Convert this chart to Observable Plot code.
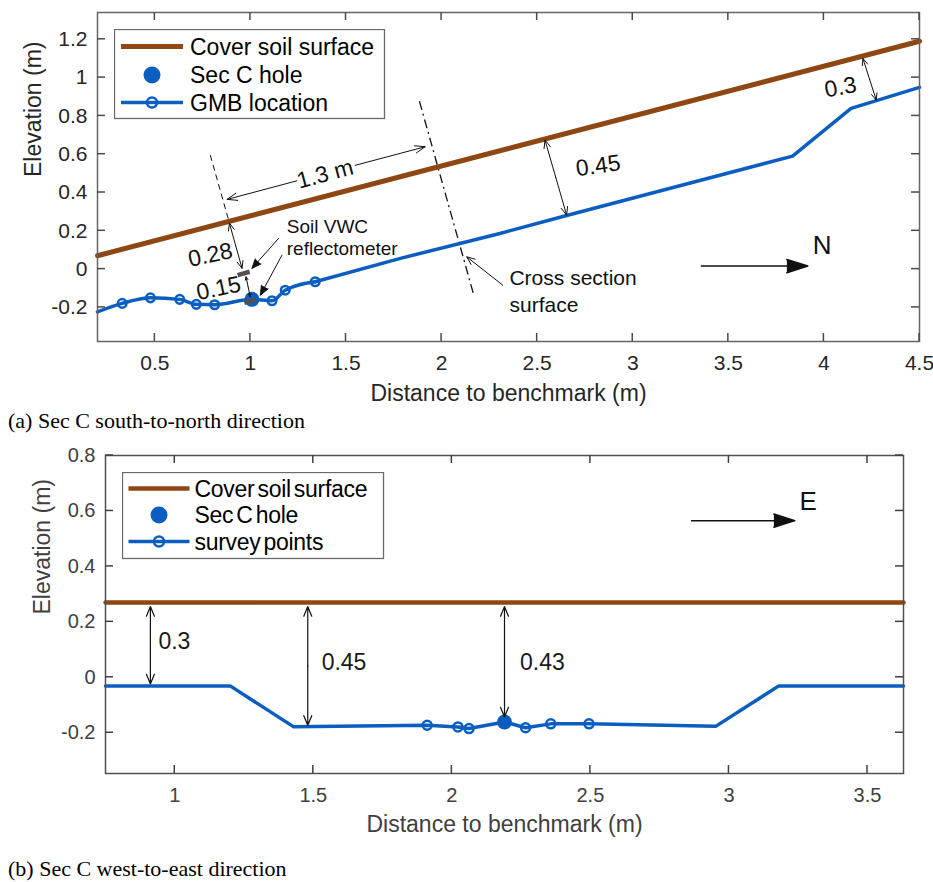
<!DOCTYPE html>
<html><head><meta charset="utf-8">
<script src="https://cdn.jsdelivr.net/npm/d3@7"></script>
<script src="https://cdn.jsdelivr.net/npm/@observablehq/plot@0.6"></script>
<style>
html,body{margin:0;padding:0;background:#fff;}
#wrap{position:relative;width:933px;height:882px;overflow:hidden;font-family:"Liberation Sans",Arial,sans-serif;}
.panel{position:absolute;left:0;}
.legend{position:absolute;}
.cap{position:absolute;left:8px;font-family:"Liberation Serif","Times New Roman",serif;font-size:22px;line-height:22px;color:#000;white-space:nowrap;}
</style></head>
<body>
<div id="wrap">
  <div id="pa" class="panel" style="top:0px"></div>
  <div id="pb" class="panel" style="top:440px"></div>
  <div class="cap" style="top:410px">(a) Sec C south-to-north direction</div>
  <div class="cap" style="top:858px">(b) Sec C west-to-east direction</div>
</div>
<script>
// ---------------- DATA: panel (a) ----------------
const xTicksA = [0.5, 1, 1.5, 2, 2.5, 3, 3.5, 4, 4.5];
const yTicksA = [-0.2, 0, 0.2, 0.4, 0.6, 0.8, 1, 1.2];
const coverAx = [0.2, 4.5];
const coverAy = [0.07, 1.19];
const gmbAx = [0.2, 0.329, 0.477, 0.63, 0.717, 0.813, 1.008, 1.113, 1.182, 1.339, 1.78, 2.3, 2.654, 3.836, 4.142, 4.5];
const gmbAy = [-0.223, -0.179, -0.15, -0.158, -0.184, -0.186, -0.158, -0.165, -0.11, -0.066, 0.055, 0.185, 0.28, 0.59, 0.839, 0.949];
const gmbMarkAx = [0.329, 0.477, 0.63, 0.717, 0.813, 1.113, 1.182, 1.339];
const gmbMarkAy = [-0.179, -0.15, -0.158, -0.184, -0.186, -0.165, -0.11, -0.066];
const holeAx = [1.008];
const holeAy = [-0.158];
// annotation geometry (a)
const dblAx1 = [2.541, 4.204, 0.89, 0.977];
const dblAy1 = [0.674, 1.1, 0.24, -0.04];
const dblAx2 = [2.654, 4.274, 0.956, 0.999];
const dblAy2 = [0.282, 0.882, 0.004, -0.145];
const spanAx1 = [1.243, 1.548];
const spanAy1 = [0.461, 0.542];
const spanAx2 = [0.878, 1.914];
const spanAy2 = [0.364, 0.639];
const ptrAx1 = [1.147, 1.165];
const ptrAy1 = [0.16, 0.073];
const ptrAx2 = [1.008, 1.052];
const ptrAy2 = [0.004, -0.136];
const xsPtrX = [2.32, 2.132];
const xsPtrY = [-0.084, 0.064];
const northX = [3.359, 3.916];
const northY = [0.016, 0.016];
const dashAX = [0.79, 0.886];
const dashAY = [0.595, 0.256];
const dashDotAX = [1.884, 2.166];
const dashDotAY = [0.877, -0.127];
const sensorX1 = [0.933, 0.968];
const sensorY1 = [-0.031, -0.176];
const sensorX2 = [0.996, 1.031];
const sensorY2 = [-0.014, -0.158];
const rotLabA = ["1.3 m", "0.28", "0.15", "0.45", "0.3"];
const rotLabAx = [1.391, 0.79, 0.834, 2.819, 4.087];
const rotLabAy = [0.496, 0.073, -0.101, 0.539, 0.949];
const rotLabAr = [-15, -12, -12, -8, -10];
const noteA = ["Soil VWC", "reflectometer"];
const noteAx = [1.19, 1.19];
const noteAy = [0.221, 0.108];
const xsLab = ["Cross section", "surface"];
const xsLabX = [2.355, 2.355];
const xsLabY = [-0.049, -0.188];
const nLab = ["N"]; const nLabX = [3.942]; const nLabY = [0.125];

// ---------------- DATA: panel (b) ----------------
const xTicksB = [1, 1.5, 2, 2.5, 3, 3.5];
const yTicksB = [-0.2, 0, 0.2, 0.4, 0.6, 0.8];
const coverBx = [0.75, 3.63];
const coverBy = [0.27, 0.27];
const surveyBx = [0.75, 1.2, 1.428, 1.911, 2.022, 2.062, 2.19, 2.266, 2.357, 2.495, 2.952, 3.18, 3.63];
const surveyBy = [-0.031, -0.031, -0.178, -0.173, -0.179, -0.185, -0.161, -0.182, -0.168, -0.168, -0.177, -0.031, -0.031];
const surveyMarkBx = [1.911, 2.022, 2.062, 2.266, 2.357, 2.495];
const surveyMarkBy = [-0.173, -0.179, -0.185, -0.182, -0.168, -0.168];
const holeBx = [2.19];
const holeBy = [-0.161];
const dblBx = [0.912, 1.48, 2.19];
const dblBTop = [0.255, 0.255, 0.255];
const dblBBot = [-0.024, -0.173, -0.143];
const dblBLab = ["0.3", "0.45", "0.43"];
const dblBLabX = [0.941, 1.53, 2.246];
const dblBLabY = [0.127, 0.052, 0.052];
const eastX = [2.865, 3.238];
const eastY = [0.565, 0.565];
const eLab = ["E"]; const eLabX = [3.255]; const eLabY = [0.633];

const legendA = ["Cover soil surface", "Sec C hole", "GMB location"];
const legendB = ["Cover soil surface", "Sec C hole", "survey points"];
const xLabel = "Distance to benchmark (m)";
const yLabel = "Elevation (m)";

// ---------------- STYLE ----------------
const brown = "#8e4612", blue = "#0b5ec0", ink = "#111";
const fmt = d => `${Math.round(d * 10) / 10}`;

function dbl(x1, y1, x2, y2) {
  const out = [];
  x1.forEach((_, i) => {
    const mx = (x1[i] + x2[i]) / 2, my = (y1[i] + y2[i]) / 2;
    out.push({x1: mx, y1: my, x2: x1[i], y2: y1[i]}, {x1: mx, y1: my, x2: x2[i], y2: y2[i]});
  });
  return out;
}
function segs(x1, y1, x2, y2) { return x1.map((_, i) => ({x1: x1[i], y1: y1[i], x2: x2[i], y2: y2[i]})); }

function frameAxes(xt, yt, fs, textColor, lineColor) {
  return [
    Plot.axisX({ticks: xt, anchor: "bottom", tickSize: 0, tickPadding: 14, tickFormat: fmt, fontSize: fs, label: null, color: textColor}),
    Plot.axisY({ticks: yt, anchor: "left", tickSize: 0, tickPadding: 10, tickFormat: fmt, fontSize: fs, label: null, color: textColor}),
    Plot.frame({stroke: lineColor, strokeWidth: 1.5})
  ];
}
// MATLAB-style inward tick marks on all four sides, placed with the plot's own scales
function inwardTicks(plot, xt, yt, color) {
  const sx = plot.scale("x"), sy = plot.scale("y");
  const fx = d3.scaleLinear(sx.domain, sx.range), fy = d3.scaleLinear(sy.domain, sy.range);
  const [xl, xr] = sx.range, yb = Math.max(...sy.range), ytp = Math.min(...sy.range);
  const L = 8;
  const g = d3.select(plot).append("g").attr("stroke", color).attr("stroke-width", 1.5);
  xt.forEach(v => {
    const px = fx(v);
    g.append("line").attr("x1", px).attr("x2", px).attr("y1", yb).attr("y2", yb - L);
    g.append("line").attr("x1", px).attr("x2", px).attr("y1", ytp).attr("y2", ytp + L);
  });
  yt.forEach(v => {
    const py = fy(v);
    g.append("line").attr("y1", py).attr("y2", py).attr("x1", xl).attr("x2", xl + L);
    g.append("line").attr("y1", py).attr("y2", py).attr("x1", xr).attr("x2", xr - L);
  });
}

// ---------------- PANEL (a) ----------------
const plotA = Plot.plot({
  width: 933, height: 405,
  marginLeft: 97, marginRight: 14, marginTop: 12, marginBottom: 64,
  x: {domain: [0.2, 4.5]},
  y: {domain: [-0.378, 1.34]},
  style: {fontFamily: '"Liberation Sans", Arial, sans-serif', fontSize: "21px", color: "#262626", background: "transparent", overflow: "visible"},
  marks: [
    Plot.link(segs([dashAX[0]], [dashAY[0]], [dashAX[1]], [dashAY[1]]), {x1: "x1", y1: "y1", x2: "x2", y2: "y2", stroke: ink, strokeWidth: 1, strokeDasharray: "6,4"}),
    Plot.link(segs([dashDotAX[0]], [dashDotAY[0]], [dashDotAX[1]], [dashDotAY[1]]), {x1: "x1", y1: "y1", x2: "x2", y2: "y2", stroke: ink, strokeWidth: 1.3, strokeDasharray: "9,4,2,4"}),
    Plot.line(coverAx, {x: coverAx, y: coverAy, stroke: brown, strokeWidth: 5}),
    Plot.line(gmbAx.slice(0, 10), {x: gmbAx.slice(0, 10), y: gmbAy.slice(0, 10), stroke: blue, strokeWidth: 3.5, curve: "monotone-x"}),
    Plot.line(gmbAx.slice(9), {x: gmbAx.slice(9), y: gmbAy.slice(9), stroke: blue, strokeWidth: 3.5, strokeLinejoin: "round"}),
    Plot.dot(gmbMarkAx, {x: gmbMarkAx, y: gmbMarkAy, r: 4.3, stroke: blue, strokeWidth: 2.5, fill: "none"}),
    Plot.dot(holeAx, {x: holeAx, y: holeAy, r: 7.5, fill: blue}),
    Plot.link(segs(sensorX1, sensorY1, sensorX2, sensorY2), {x1: "x1", y1: "y1", x2: "x2", y2: "y2", stroke: "#505050", strokeWidth: 4.5}),
    Plot.arrow(dbl(dblAx1, dblAy1, dblAx2, dblAy2), {x1: "x1", y1: "y1", x2: "x2", y2: "y2", stroke: ink, strokeWidth: 1, headLength: 13, headAngle: 45}),
    Plot.arrow(segs(spanAx1, spanAy1, spanAx2, spanAy2), {x1: "x1", y1: "y1", x2: "x2", y2: "y2", stroke: ink, strokeWidth: 1, headLength: 16, headAngle: 40}),
    Plot.arrow(segs([xsPtrX[0]], [xsPtrY[0]], [xsPtrX[1]], [xsPtrY[1]]), {x1: "x1", y1: "y1", x2: "x2", y2: "y2", stroke: ink, strokeWidth: 1, headLength: 13, headAngle: 45}),
    Plot.arrow(segs(ptrAx1, ptrAy1, ptrAx2, ptrAy2), {x1: "x1", y1: "y1", x2: "x2", y2: "y2", stroke: ink, fill: ink, strokeWidth: 1, strokeLinejoin: "miter", headLength: 15, headAngle: 45}),
    Plot.arrow(segs([northX[0]], [northY[0]], [northX[1]], [northY[1]]), {x1: "x1", y1: "y1", x2: "x2", y2: "y2", stroke: ink, fill: ink, strokeWidth: 1.5, strokeLinejoin: "miter", headLength: 22, headAngle: 35}),
    Plot.text(rotLabA, {x: rotLabAx, y: rotLabAy, text: d => d, rotate: rotLabAr, fontSize: 23, fill: ink}),
    Plot.text(noteA, {x: noteAx, y: noteAy, text: d => d, textAnchor: "start", fontSize: 19, fill: ink}),
    Plot.text(xsLab, {x: xsLabX, y: xsLabY, text: d => d, textAnchor: "start", fontSize: 21, fill: ink}),
    Plot.text(nLab, {x: nLabX, y: nLabY, text: d => d, textAnchor: "start", fontSize: 26, fill: ink}),
    ...frameAxes(xTicksA, yTicksA, 21, "#262626", "#666"),
    Plot.text([xLabel], {frameAnchor: "bottom", dy: 59, text: d => d, fontSize: 23, fill: "#262626"}),
    Plot.text([yLabel], {frameAnchor: "left", dx: -64, rotate: -90, text: d => d, fontSize: 23, fill: "#262626"})
  ]
});
inwardTicks(plotA, xTicksA, yTicksA, "#4a4a4a");
document.getElementById("pa").appendChild(plotA);

// ---------------- PANEL (b) ----------------
const plotB = Plot.plot({
  width: 933, height: 400,
  marginLeft: 105, marginRight: 30, marginTop: 15, marginBottom: 67,
  x: {domain: [0.75, 3.63]},
  y: {domain: [-0.347, 0.8]},
  style: {fontFamily: '"Liberation Sans", Arial, sans-serif', fontSize: "20px", color: "#404040", background: "transparent", overflow: "visible"},
  marks: [
    Plot.line(coverBx, {x: coverBx, y: coverBy, stroke: brown, strokeWidth: 4.5}),
    Plot.line(surveyBx, {x: surveyBx, y: surveyBy, stroke: blue, strokeWidth: 3.5}),
    Plot.dot(surveyMarkBx, {x: surveyMarkBx, y: surveyMarkBy, r: 4.5, stroke: blue, strokeWidth: 2.5, fill: "none"}),
    Plot.dot(holeBx, {x: holeBx, y: holeBy, r: 7.5, fill: blue}),
    Plot.arrow(dbl(dblBx, dblBTop, dblBx, dblBBot), {x1: "x1", y1: "y1", x2: "x2", y2: "y2", stroke: ink, strokeWidth: 1.2, headLength: 13, headAngle: 45}),
    Plot.arrow(segs([eastX[0]], [eastY[0]], [eastX[1]], [eastY[1]]), {x1: "x1", y1: "y1", x2: "x2", y2: "y2", stroke: ink, fill: ink, strokeWidth: 1.5, strokeLinejoin: "miter", headLength: 22, headAngle: 35}),
    Plot.text(dblBLab, {x: dblBLabX, y: dblBLabY, text: d => d, textAnchor: "start", fontSize: 23, fill: "#1a1a1a"}),
    Plot.text(eLab, {x: eLabX, y: eLabY, text: d => d, textAnchor: "start", fontSize: 26, fill: "#111"}),
    ...frameAxes(xTicksB, yTicksB, 20, "#404040", "#505050"),
    Plot.text([xLabel], {frameAnchor: "bottom", dy: 58, text: d => d, fontSize: 23, fill: "#404040", letterSpacing: "-0.3px"}),
    Plot.text([yLabel], {frameAnchor: "left", dx: -63, rotate: -90, text: d => d, fontSize: 23, fill: "#404040"})
  ]
});
inwardTicks(plotB, xTicksB, yTicksB, "#404040");
document.getElementById("pb").appendChild(plotB);

// ---------------- LEGENDS ----------------
function legend(box, rows, labels, opts) {
  const svg = d3.select("#wrap").append("svg").attr("class", "legend")
    .style("left", box.left + "px").style("top", box.top + "px")
    .attr("width", box.w + 2).attr("height", box.h + 2);
  svg.append("rect").attr("x", 0.5).attr("y", 0.5).attr("width", box.w).attr("height", box.h)
    .attr("fill", "#fff").attr("stroke", "#6a6a6a").attr("stroke-width", 1.3);
  const cx = (rows.sx1 + rows.sx2) / 2;
  svg.append("line").attr("x1", rows.sx1).attr("x2", rows.sx2).attr("y1", rows.y[0]).attr("y2", rows.y[0])
    .attr("stroke", brown).attr("stroke-width", opts.bw);
  svg.append("circle").attr("cx", cx).attr("cy", rows.y[1]).attr("r", 8.5).attr("fill", blue);
  svg.append("line").attr("x1", rows.sx1).attr("x2", rows.sx2).attr("y1", rows.y[2]).attr("y2", rows.y[2])
    .attr("stroke", blue).attr("stroke-width", 3.5);
  svg.append("circle").attr("cx", cx).attr("cy", rows.y[2]).attr("r", 5).attr("fill", "none")
    .attr("stroke", blue).attr("stroke-width", 2.5);
  labels.forEach((t, i) => {
    svg.append("text").attr("x", rows.tx).attr("y", rows.y[i]).attr("dy", "0.36em")
      .attr("font-family", '"Liberation Sans", Arial, sans-serif').attr("font-size", 23)
      .attr("letter-spacing", opts.ls).attr("word-spacing", opts.ws)
      .attr("fill", "#000").text(t);
  });
}
legend({left: 114, top: 29, w: 270, h: 89}, {y: [17.5, 46, 73.5], sx1: 7, sx2: 69, tx: 76}, legendA, {bw: 5, ls: "0px", ws: "0px"});
legend({left: 122, top: 472, w: 261, h: 86}, {y: [16.5, 43, 69.5], sx1: 6.5, sx2: 67.5, tx: 72.5}, legendB, {bw: 4.5, ls: "-0.3px", ws: "-3px"});
</script>
</body></html>
